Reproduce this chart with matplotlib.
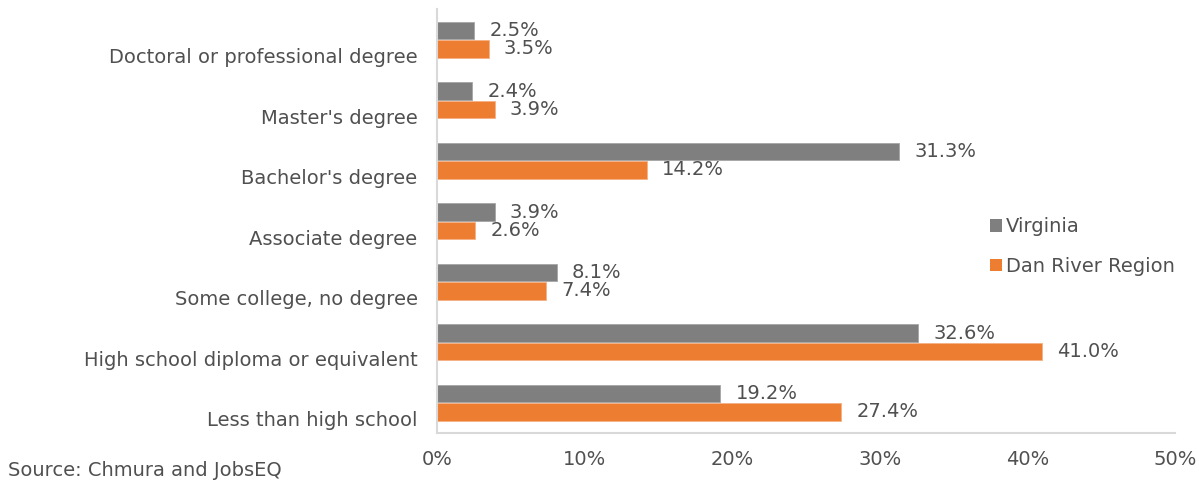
import matplotlib
matplotlib.use("Agg")
import matplotlib.pyplot as plt
import matplotlib.transforms as mtransforms
from matplotlib.patches import Patch
import numpy as np

# Educational attainment shares, bottom to top
categories = [
    "Less than high school",
    "High school diploma or equivalent",
    "Some college, no degree",
    "Associate degree",
    "Bachelor's degree",
    "Master's degree",
    "Doctoral or professional degree",
]
virginia = [19.2, 32.6, 8.1, 3.9, 31.3, 2.4, 2.5]
dan_river = [27.4, 41.0, 7.4, 2.6, 14.2, 3.9, 3.5]
x_ticks = [0, 10, 20, 30, 40, 50]

gray = "#7F7F7F"
orange = "#ED7D31"
text_color = "#505050"
fs = 14

plt.rcParams["font.family"] = ["DejaVu Sans"]

fig = plt.figure(figsize=(11.99, 4.98), dpi=100)
ax = fig.add_axes([0.3645, 0.1305, 0.6155, 0.8505])

y = np.arange(len(categories))
h = 0.29
bars_va = ax.barh(y + h / 2 + 0.005, virginia, height=h, color=gray,
                  edgecolor="#A6A6A6", linewidth=0.6, label="Virginia")
bars_dr = ax.barh(y - h / 2 - 0.005, dan_river, height=h, color=orange,
                  edgecolor="#F4B183", linewidth=0.6, label="Dan River Region")

for bars, vals in ((bars_va, virginia), (bars_dr, dan_river)):
    for b, v in zip(bars, vals):
        ax.annotate(f"{v:.1f}%", (v, b.get_y() + b.get_height() / 2),
                    xytext=(11, 0), textcoords="offset points",
                    va="center", ha="left", fontsize=fs, color=text_color)

ax.set_xlim(0, 50)
ax.set_ylim(-0.5, len(categories) - 0.5)
ax.set_xticks(x_ticks)
ax.set_xticklabels([f"{t}%" for t in x_ticks])
ax.set_yticks(y)
ax.set_yticklabels(categories)
ax.tick_params(axis="both", length=0, labelsize=fs, labelcolor=text_color)
ax.tick_params(axis="x", pad=12)
ax.tick_params(axis="y", pad=14)

# category labels sit a little below the middle of each group
shift = mtransforms.ScaledTranslation(0, -16 / 100, fig.dpi_scale_trans)
for lbl in ax.get_yticklabels():
    lbl.set_transform(lbl.get_transform() + shift)

for side in ("top", "right"):
    ax.spines[side].set_visible(False)
ax.spines["left"].set_color("#D9D9D9")
ax.spines["bottom"].set_color("#D9D9D9")
ax.spines["left"].set_linewidth(1.5)
ax.spines["bottom"].set_linewidth(1.5)

handles = [Patch(facecolor=gray, label="Virginia"),
           Patch(facecolor=orange, label="Dan River Region")]
ax.legend(handles=handles, loc="center left", bbox_to_anchor=(0.726, 0.44),
          frameon=False, handlelength=0.6, handleheight=0.6, handletextpad=0.2,
          labelspacing=1.05, fontsize=fs, labelcolor=text_color)

fig.text(0.007, 0.055, "Source: Chmura and JobsEQ", fontsize=fs,
         color=text_color, ha="left", va="center")

fig.savefig("out.png", dpi=100)
